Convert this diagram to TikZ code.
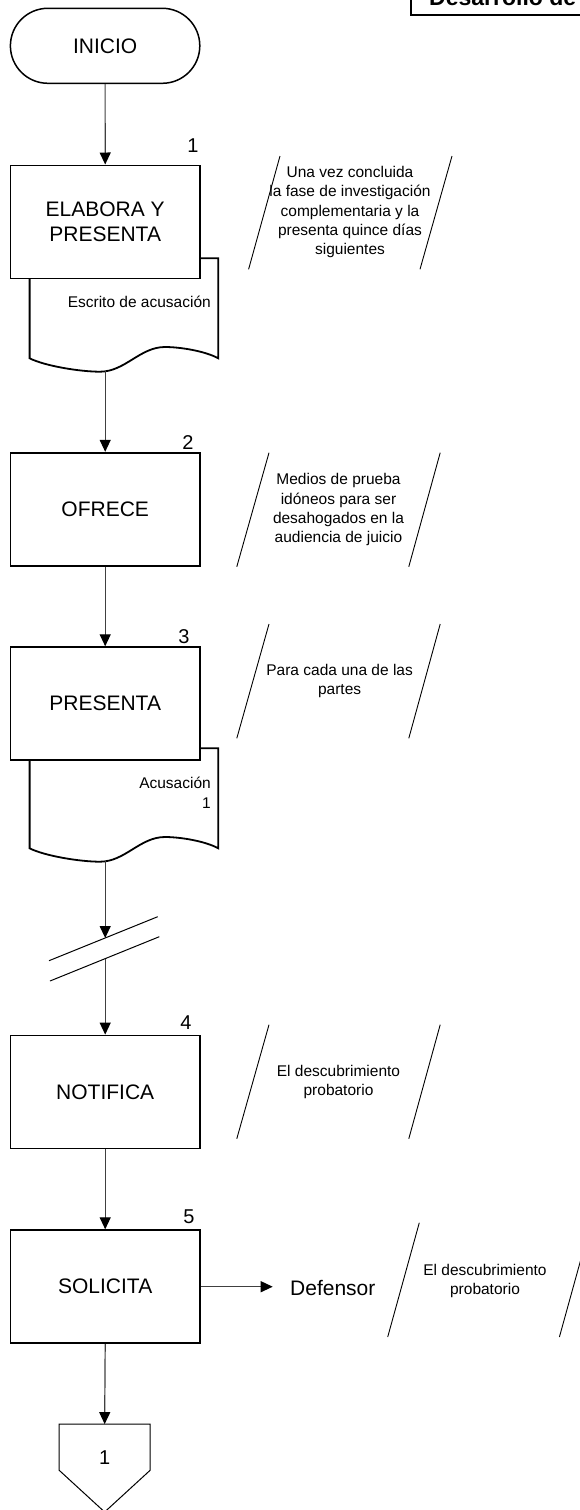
\documentclass[tikz,border=0pt]{standalone}
\usepackage{fontspec}
\setmainfont{Liberation Sans}
\usetikzlibrary{arrows.meta,calc}
\begin{document}
\begin{tikzpicture}[x=1pt,y=-1pt,
  box/.style={draw, line width=1.8pt, fill=white, minimum width=189.5pt, minimum height=113pt, inner sep=0pt, font=\fontsize{21}{25}\selectfont, align=center},
  flow/.style={draw=black!75, line width=1.2pt, -{Triangle[length=12pt,width=11pt,black]}},
  annline/.style={line width=0.9pt},
  anntext/.style={font=\fontsize{15.5}{19.3}\selectfont, align=center, inner sep=0pt},
  num/.style={font=\fontsize{20}{24}\selectfont, inner sep=0pt},
  doctext/.style={font=\fontsize{15.5}{20.4}\selectfont, align=right, inner sep=0pt},
  docshape/.style={line width=1.8pt, fill=white},
]
\useasboundingbox (0,0) rectangle (580,1510);

% header
\draw[line width=1.7pt] (411,-10) -- (411,14.7) -- (600,14.7);
\node[anchor=base west, font=\bfseries\fontsize{23}{27}\selectfont, inner sep=0pt] (hdr) at (429,5.7) {Desarrollo de};

% start
\node[draw, line width=1.5pt, rounded corners=37.5pt, minimum width=189.4pt, minimum height=75pt, inner sep=0pt, font=\fontsize{21}{25}\selectfont] (inicio) at (105.1,45.8) {INICIO};

% document 1 (behind box 1)
\draw[docshape] (29.6,258.3) -- (218.3,258.3) -- (218.3,358.3)
  .. controls (205,351) and (180,347) .. (165,347)
  .. controls (140,347) and (125,371.7) .. (100,371.7)
  .. controls (80,371.7) and (45,366) .. (29.6,358.3) -- cycle;
\node[doctext, anchor=east] (doc1) at (211,301.7) {Escrito de acusación};
\coordinate (d1b) at (105.2,371.4);

% document 2 (behind box 3)
\draw[docshape] (29.6,748.3) -- (218.3,748.3) -- (218.3,848.3)
  .. controls (205,841) and (180,837) .. (165,837)
  .. controls (140,837) and (125,861.7) .. (100,861.7)
  .. controls (80,861.7) and (45,856) .. (29.6,848.3) -- cycle;
\node[doctext, anchor=east] (doc2) at (211,792.5) {Acusación\\1};
\coordinate (d2b) at (105.2,861.4);

% process boxes
\node[box] (box1) at (105.2,221.9) {ELABORA Y\\PRESENTA};
\node[box] (box2) at (105.2,509.2) {OFRECE};
\node[box] (box3) at (105.2,703.7) {PRESENTA};
\node[box] (box4) at (105.2,1092.0) {NOTIFICA};
\node[box] (box5) at (105.2,1286.7) {SOLICITA};

% step numbers
\node[num] (n1) at (193,146) {1};
\node[num] (n2) at (188,443) {2};
\node[num] (n3) at (184,637) {3};
\node[num] (n4) at (186,1023) {4};
\node[num] (n5) at (189,1217) {5};

% annotations
\draw[annline] (248.6,269.3) -- (280,156);
\draw[annline] (420,269.3) -- (452,156);
\node[anntext] (a1) at (350,212) {Una vez concluida\\la fase de investigación\\complementaria y la\\presenta quince días\\siguientes};

\draw[annline] (236.8,566.7) -- (269,452.7);
\draw[annline] (408.8,566.7) -- (440.2,452.7);
\node[anntext] (a2) at (338.5,509.7) {Medios de prueba\\idóneos para ser\\desahogados en la\\audiencia de juicio};

\draw[annline] (236.8,738.3) -- (269,624);
\draw[annline] (408.8,738.3) -- (440.2,624);
\node[anntext] (a3) at (339.6,681.2) {Para cada una de las\\partes};

\draw[annline] (236.8,1138.7) -- (269,1024.7);
\draw[annline] (408.8,1138.7) -- (440.2,1024.7);
\node[anntext] (a4) at (338.5,1082) {El descubrimiento\\probatorio};

\draw[annline] (387.7,1337) -- (419.3,1222.7);
\draw[annline] (559.4,1337) -- (591,1222.7);
\node[anntext] (a5) at (485,1281) {El descubrimiento\\probatorio};

% Defensor
\node[anchor=west, font=\fontsize{21}{25}\selectfont, inner sep=0pt] (def) at (290,1287.5) {Defensor};

% break mark
\coordinate (bk1a) at (49,960.7);
\coordinate (bk1b) at (157.7,916.7);
\coordinate (bk2a) at (50,981);
\coordinate (bk2b) at (159.3,936.7);
\draw[line width=1pt] (bk1a) -- (bk1b);
\draw[line width=1pt] (bk2a) -- (bk2b);
\coordinate (cut1) at (105.2,938);
\coordinate (cut2) at (105.2,958.6);

% off-page connector
\node[minimum width=90.7pt, minimum height=45.7pt, inner sep=0pt] (off) at (104.65,1447.15) {};
\draw[line width=1pt, fill=white] (off.north west) -- (off.north east) -- (off.south east) -- (104.65,1512) -- (off.south west) -- cycle;
\node[num] (offl) at (104.65,1458) {1};

% connectors
\draw[flow] (inicio.south) -- (box1.north);
\draw[flow] (d1b) -- (box2.north);
\draw[flow] (box2.south) -- (box3.north);
\draw[flow] (d2b) -- (cut1);
\draw[flow] (cut2) -- (box4.north);
\draw[flow] (box4.south) -- (box5.north);
\draw[flow, shorten >=17.3pt] (box5.east) -- (box5.east -| def.west);
\draw[flow] (box5.south) -- (off.north);
\end{tikzpicture}
\end{document}
